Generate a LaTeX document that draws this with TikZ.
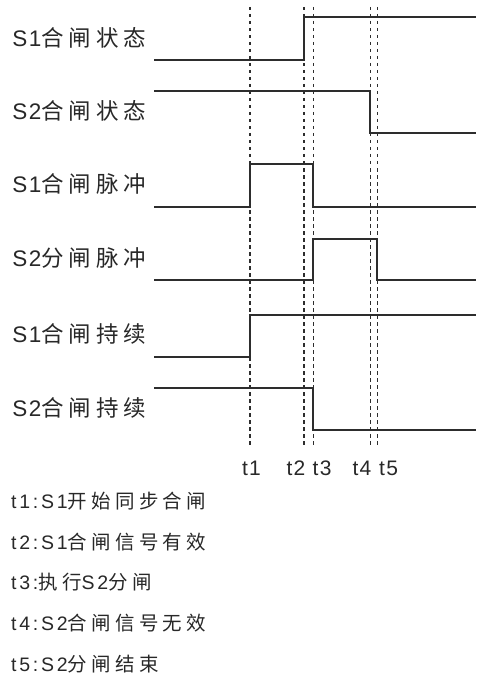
\documentclass[tikz,border=0pt]{standalone}
\usepackage{fontspec}
\setmainfont{Liberation Sans}[LetterSpace=6]
\newfontfamily\notefont{Liberation Sans}[LetterSpace=14]
\newfontfamily\cjk{Noto Sans CJK SC}[LetterSpace=22]
\usepackage{xcolor}
\usepackage{tikz}
\usetikzlibrary{positioning, calc}
\definecolor{wline}{RGB}{45,45,45}
\definecolor{wtext}{RGB}{40,40,40}

\begin{document}
\begin{tikzpicture}[x=1pt,y=-1pt,
    wave/.style={draw=wline,line width=1.7pt,line join=miter},
    tmark/.style={draw=wline,line width=1.6pt,dash pattern=on 3.5pt off 3.5pt},
    siglbl/.style={anchor=base west,inner sep=0pt,text=wtext,font=\fontsize{22.5}{26}\selectfont},
    tlbl/.style={inner sep=0pt,text=wtext,font=\fontsize{21}{25}\selectfont},
    notelbl/.style={anchor=base west,inner sep=0pt,text=wtext,font=\fontsize{19.5}{23}\notefont}]
  \useasboundingbox (0,0) rectangle (476,679);
  % time marks t1..t5 (x in px)
  \def\tA{250}
  \def\tB{304}
  \def\tC{313.3}
  \def\tD{370.3}
  \def\tE{377.3}
  \def\xs{154} % waveform start
  \def\xe{476} % waveform end

  % signal names
  \foreach \lbl/\yb/\n in {
      {S1{\cjk 合闸状态}}/46.7/1,
      {S2{\cjk 合闸状态}}/119.8/2,
      {S1{\cjk 合闸脉冲}}/192.9/3,
      {S2{\cjk 分闸脉冲}}/266.2/4,
      {S1{\cjk 合闸持续}}/342.7/5,
      {S2{\cjk 合闸持续}}/416.2/6}{
    \node[siglbl] (sig\n) at (12.3,\yb) {\lbl};
  }

  % dashed time marks
  \foreach \x/\n in {\tA/1,\tB/2,\tC/3,\tD/4,\tE/5}{
    \coordinate (mk\n) at (\x,7);
    \draw[tmark] (mk\n) -- (\x,447);
  }
  \node[tlbl,anchor=base]      (tl1) at (251.5,475) {t1};
  \node[tlbl,anchor=base east] (tl2) at (305.5,475) {t2};
  \node[tlbl,anchor=base west] (tl3) at (312.5,475) {t3};
  \node[tlbl,anchor=base east] (tl4) at (371.5,475) {t4};
  \node[tlbl,anchor=base west] (tl5) at (379,475) {t5};

  % waveforms
  \draw[wave] (\xs,60) -- (\tB,60) -- (\tB,17.3) -- (\xe,17.3);
  \draw[wave] (\xs,90.7) -- (\tD,90.7) -- (\tD,132.7) -- (\xe,132.7);
  \draw[wave] (\xs,206.7) -- (\tA,206.7) -- (\tA,164.3) -- (\tC,164.3) -- (\tC,206.7) -- (\xe,206.7);
  \draw[wave] (\xs,280) -- (\tC,280) -- (\tC,239) -- (\tE,239) -- (\tE,280) -- (\xe,280);
  \draw[wave] (\xs,356.7) -- (\tA,356.7) -- (\tA,315.3) -- (\xe,315.3);
  \draw[wave] (\xs,388.3) -- (\tC,388.3) -- (\tC,430) -- (\xe,430);

  % legend
  \foreach \txt/\yb/\n in {
      {t1:S1{\cjk 开始同步合闸}}/508.3/1,
      {t2:S1{\cjk 合闸信号有效}}/549.1/2,
      {t3:{\cjk 执行}S2{\cjk 分闸}}/589.9/3,
      {t4:S2{\cjk 合闸信号无效}}/630.7/4,
      {t5:S2{\cjk 分闸结束}}/671.5/5}{
    \node[notelbl] (note\n) at (11,\yb) {\txt};
  }
\end{tikzpicture}
\end{document}
